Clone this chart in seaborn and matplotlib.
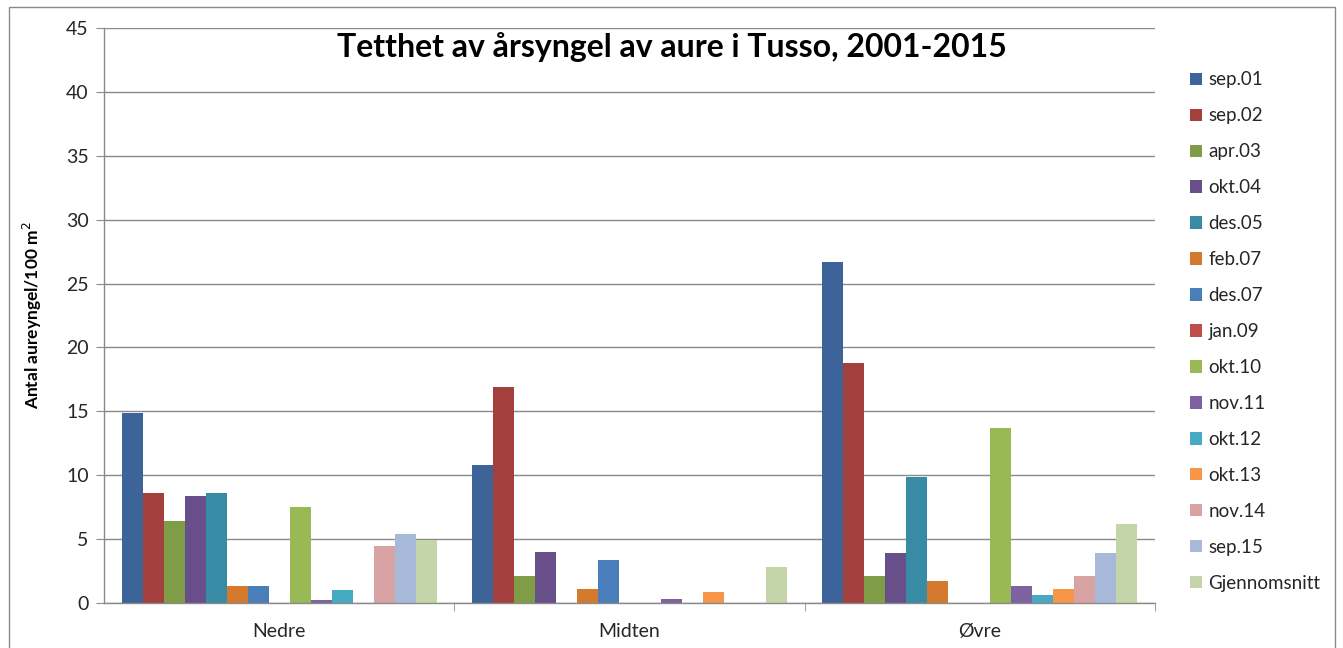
import matplotlib
matplotlib.use("Agg")
import matplotlib.pyplot as plt
import matplotlib.patches as mpatches
import pandas as pd
import seaborn as sns

# Sampling sections along the river
sections = ["Nedre", "Midten", "Øvre"]

# Sampling rounds (legend order)
rounds = ["sep.01", "sep.02", "apr.03", "okt.04", "des.05", "feb.07", "des.07",
          "jan.09", "okt.10", "nov.11", "okt.12", "okt.13", "nov.14", "sep.15",
          "Gjennomsnitt"]

# Density of young-of-the-year trout (per 100 m2), one list per section
nedre = [14.9, 8.6, 6.4, 8.4, 8.6, 1.3, 1.3, 0.0, 7.5, 0.2, 1.0, 0.0, 4.5, 5.4, 4.95]
midten = [10.8, 16.9, 2.1, 4.0, 0.0, 1.1, 3.35, 0.0, 0.0, 0.35, 0.0, 0.85, 0.0, 0.0, 2.8]
ovre = [26.7, 18.8, 2.1, 3.9, 9.9, 1.75, 0.0, 0.0, 13.7, 1.3, 0.65, 1.1, 2.1, 3.9, 6.2]

colors = ["#3C6498", "#A3403D", "#7F9C46", "#684F8A", "#388BA5", "#D47A2E",
          "#4A7EBB", "#BF4D4A", "#98B954", "#7D61A0", "#47AAC5", "#F79646",
          "#D9A3A3", "#A7B9D9", "#C4D6A9"]

rows = []
for sec, vals in zip(sections, [nedre, midten, ovre]):
    for r, v in zip(rounds, vals):
        rows.append({"Strekning": sec, "Runde": r, "Tetthet": v})
df = pd.DataFrame(rows)

sns.set_style("white")
plt.rcParams["font.family"] = ["Lato", "DejaVu Sans"]

fig = plt.figure(figsize=(13.43, 6.48), dpi=100)
ax = fig.add_axes([104 / 1343, 1 - 603 / 648, (1155 - 104) / 1343, (603 - 28) / 648])

sns.barplot(data=df, x="Strekning", y="Tetthet", hue="Runde", order=sections,
            hue_order=rounds, palette=colors, saturation=1, width=0.9,
            linewidth=0, errorbar=None, ax=ax, legend=False)

ax.set_ylim(0, 45)
ax.set_xlim(-0.5, 2.5)
ax.set_yticks(range(0, 50, 5))
ax.yaxis.grid(True, color="#8a8a8a", linewidth=1.0)
ax.set_axisbelow(True)

for side in ["top", "right"]:
    ax.spines[side].set_visible(False)
for side in ["left", "bottom"]:
    ax.spines[side].set_color("#8a8a8a")
    ax.spines[side].set_linewidth(1.0)

# y ticks pointing out, category separators below the axis
ax.tick_params(axis="y", which="major", left=True, length=6, color="#8a8a8a",
               labelsize=14, labelcolor="#262626", pad=5)
ax.tick_params(axis="x", which="major", bottom=False, labelsize=14,
               labelcolor="#262626", pad=11)
ax.set_xticks([0.5, 1.5, 2.5], minor=True)
ax.tick_params(axis="x", which="minor", bottom=True, length=6,
               color="#8a8a8a", direction="out")

ax.set_xlabel("")
ax.set_ylabel("Antal aureyngel/100 m$^2$", fontsize=12.5, fontweight="bold",
              color="black")
ax.yaxis.set_label_coords(-0.057, 0.5)

fig.text(0.5, 1 - 47 / 648, "Tetthet av årsyngel av aure i Tusso, 2001-2015",
         ha="center", va="center", fontsize=23, fontweight="bold", color="black")

handles = [mpatches.Patch(facecolor=c, edgecolor="none") for c in colors]
fig.legend(handles, rounds, loc="upper left",
           bbox_to_anchor=(1182 / 1343, 1 - 64 / 648), frameon=False,
           fontsize=13.5, handlelength=0.65, handleheight=0.65,
           handletextpad=0.35, labelspacing=1.01, borderaxespad=0,
           labelcolor="#262626")

# Chart area frame
fig.add_artist(mpatches.Rectangle((9 / 1343, -0.05), (1335 - 9) / 1343,
                                  1.05 - 7 / 648, transform=fig.transFigure,
                                  fill=False, edgecolor="#8a8a8a", linewidth=1.0))

fig.savefig("out.png", dpi=100)
